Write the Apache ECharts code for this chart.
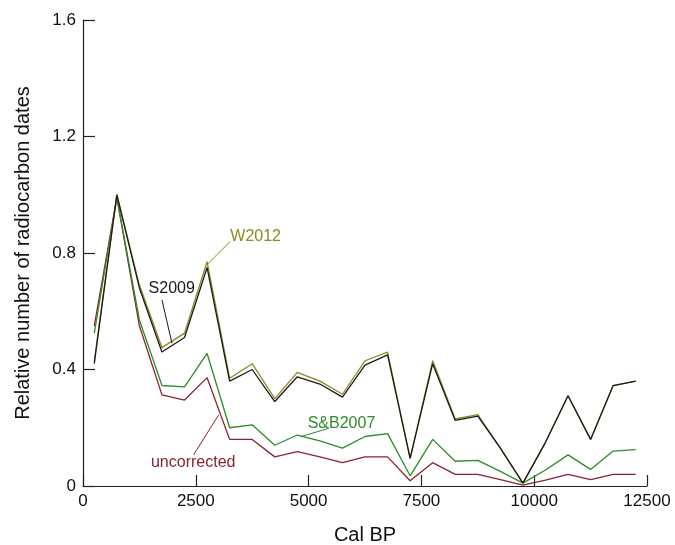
<html>
<head>
<meta charset="utf-8">
<title>Relative number of radiocarbon dates</title>
<script src="https://cdn.jsdelivr.net/npm/echarts@6/dist/echarts.min.js"></script>
<style>
  body { margin: 0; background: #fff; }
  #chart { width: 675px; height: 545px; }
</style>
</head>
<body>
<div id="chart"></div>
<script type="text/javascript">
// bin midpoints (Cal BP)
var calBP = [250, 750, 1250, 1750, 2250, 2750, 3250, 3750, 4250, 4750, 5250, 5750, 6250,
             6750, 7250, 7750, 8250, 8750, 9250, 9750, 10250, 10750, 11250, 11750, 12250];

var s2009 = [0.42, 1.0, 0.68, 0.46, 0.51, 0.75, 0.36, 0.40, 0.29, 0.375, 0.35, 0.305, 0.415,
             0.45, 0.095, 0.42, 0.225, 0.24, 0.13, 0.01, 0.15, 0.31, 0.16, 0.345, 0.36];
var w2012 = [0.43, 1.0, 0.69, 0.475, 0.525, 0.77, 0.37, 0.42, 0.30, 0.39, 0.36, 0.315, 0.43,
             0.46, 0.095, 0.43, 0.23, 0.245, 0.13, 0.01, 0.15, 0.31, 0.16, 0.345, 0.36];
var sb2007 = [0.525, 0.99, 0.57, 0.345, 0.34, 0.455, 0.20, 0.21, 0.14, 0.175, 0.155, 0.13, 0.17,
              0.18, 0.035, 0.16, 0.085, 0.088, 0.05, 0.01, 0.055, 0.107, 0.057, 0.12, 0.125];
var uncorrected = [0.55, 0.99, 0.55, 0.313, 0.295, 0.372, 0.16, 0.16, 0.10, 0.118, 0.10, 0.08, 0.10,
                   0.10, 0.018, 0.08, 0.04, 0.04, 0.022, 0.003, 0.02, 0.04, 0.022, 0.04, 0.04];

var xTicks = [0, 2500, 5000, 7500, 10000, 12500];
var yTicks = [0, 0.4, 0.8, 1.2, 1.6];

// labels: [name, text anchor (data), leader start, leader end]
var labelNames = ['uncorrected', 'S&B2007', 'W2012', 'S2009'];
var labelAt = [[1506, 0.08], [4980, 0.215], [3265, 0.857], [1453, 0.677]];
var leaderFrom = [[2451, 0.107], [4818, 0.169], [2748, 0.76], [1972, 0.49]];
var leaderTo = [[3006, 0.244], [5446, 0.198], [3265, 0.84], [1750, 0.639]];

var colors = ['#8b2232', '#2f8a2a', '#8f8820', '#1a1a1a'];
var seriesData = [uncorrected, sb2007, w2012, s2009];

var font = 'Liberation Sans, Arial, sans-serif';

function pairs(vals) {
    var out = [];
    for (var i = 0; i < calBP.length; i++) {
        out.push([calBP[i], vals[i]]);
    }
    return out;
}

var series = [];
for (var k = 0; k < seriesData.length; k++) {
    series.push({
        name: labelNames[k],
        type: 'line',
        data: pairs(seriesData[k]),
        symbol: 'none',
        lineStyle: { color: colors[k], width: 1.3 },
        z: 2 + k,
        markLine: {
            silent: true,
            symbol: ['none', 'none'],
            label: { show: false },
            lineStyle: { color: colors[k], width: 1, type: 'solid' },
            data: [[{ coord: leaderFrom[k] }, { coord: leaderTo[k] }]]
        },
        markPoint: {
            silent: true,
            symbol: 'rect',
            symbolSize: 0,
            label: {
                show: true,
                position: 'right',
                distance: 0,
                formatter: labelNames[k],
                color: colors[k],
                fontFamily: font,
                fontSize: 16
            },
            data: [{ coord: labelAt[k] }]
        }
    });
}

var dom = document.getElementById('chart');
var myChart = echarts.init(dom);

var option = {
    animation: false,
    backgroundColor: '#ffffff',
    grid: { left: 83, right: 28, top: 20, bottom: 59, containLabel: false, outerBoundsMode: 'none' },
    xAxis: {
        type: 'value',
        min: xTicks[0],
        max: xTicks[xTicks.length - 1],
        interval: 2500,
        name: 'Cal BP',
        nameLocation: 'middle',
        nameGap: 39,
        nameTextStyle: { fontFamily: font, fontSize: 20, color: '#111' },
        axisLine: { lineStyle: { color: '#222', width: 1.2 } },
        axisTick: { inside: true, length: 11, lineStyle: { color: '#222', width: 1.2 } },
        axisLabel: {
            fontFamily: font, fontSize: 17, color: '#111', margin: 7,
            formatter: function (v) { return String(v); }
        },
        splitLine: { show: false }
    },
    yAxis: {
        type: 'value',
        min: yTicks[0],
        max: yTicks[yTicks.length - 1],
        interval: 0.4,
        name: 'Relative number of radiocarbon dates',
        nameLocation: 'middle',
        nameGap: 50,
        nameTextStyle: { fontFamily: font, fontSize: 20, color: '#111' },
        axisLine: { show: true, lineStyle: { color: '#222', width: 1.2 } },
        axisTick: { show: true, inside: true, length: 12, lineStyle: { color: '#222', width: 1.2 } },
        axisLabel: { fontFamily: font, fontSize: 17, color: '#111', margin: 7 },
        splitLine: { show: false }
    },
    series: series
};

if (option && typeof option === "object") {
    myChart.setOption(option, true);
}
</script>
</body>
</html>
